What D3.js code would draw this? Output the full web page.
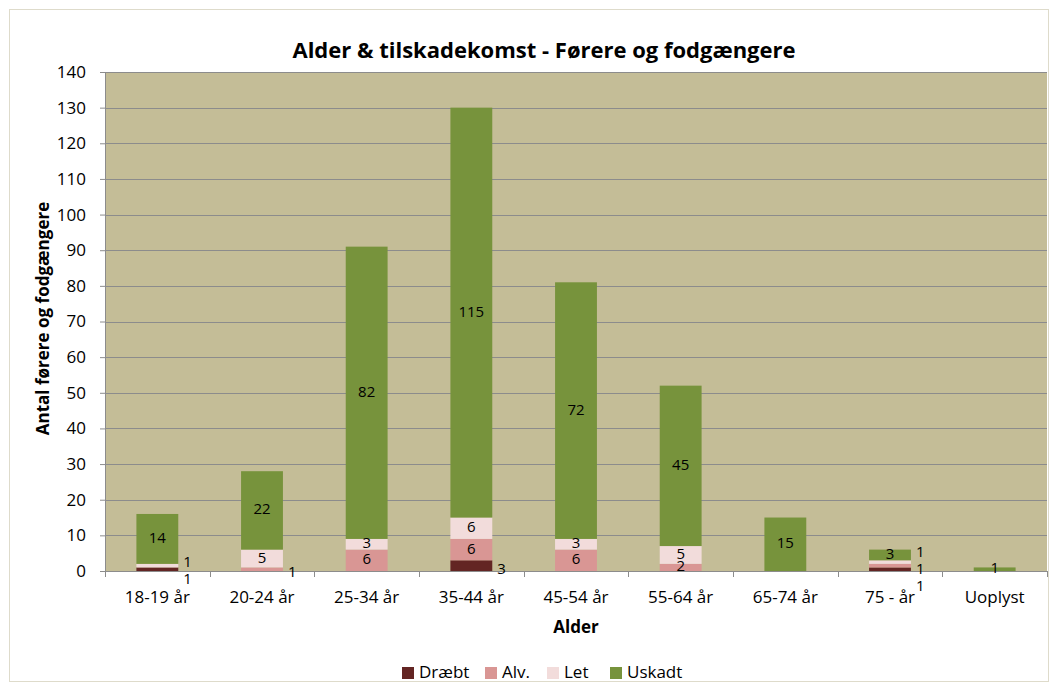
<!DOCTYPE html>
<html>
<head>
<meta charset="utf-8">
<script src="https://cdn.jsdelivr.net/npm/d3@7"></script>
<style>
  body { margin: 0; background: #fff; }
  text { font-family: "Open Sans", "Noto Sans", sans-serif; }
</style>
</head>
<body>
<div id="chart"></div>
<script>
// data
var categories = ["18-19 år", "20-24 år", "25-34 år", "35-44 år", "45-54 år", "55-64 år", "65-74 år", "75 -  år", "Uoplyst"];
var seriesNames = ["Dræbt", "Alv.", "Let", "Uskadt"];
var draebt = [1, 0, 0, 3, 0, 0, 0, 1, 0];
var alv    = [0, 1, 6, 6, 6, 2, 0, 1, 0];
var let_   = [1, 5, 3, 6, 3, 5, 0, 1, 0];
var uskadt = [14, 22, 82, 115, 72, 45, 15, 3, 1];
var yTicks = d3.range(0, 141, 10);

var colors = ["#632523", "#D99694", "#F2DCDB", "#77933C"];

var W = 1058, H = 691;
var margin = { top: 72, right: 11, bottom: 120, left: 105 };
var width = W - margin.left - margin.right;
var height = H - margin.top - margin.bottom;

var svg = d3.select("#chart").append("svg")
    .attr("width", W)
    .attr("height", H);

// chart area border
svg.append("rect")
    .attr("x", 9.5).attr("y", 9.5)
    .attr("width", W - 19).attr("height", H - 19)
    .attr("fill", "#fff")
    .attr("stroke", "#DEDBCB");

var g = svg.append("g")
    .attr("transform", "translate(" + margin.left + "," + margin.top + ")");

// table for stacking
var table = categories.map(function(c, i) {
    return { cat: c, "Dræbt": draebt[i], "Alv.": alv[i], "Let": let_[i], "Uskadt": uskadt[i] };
});
var stacked = d3.stack().keys(seriesNames)(table);

var x = d3.scaleBand().domain(categories).range([0, width]).paddingInner(0.6).paddingOuter(0.3);
var xOuter = d3.scaleBand().domain(categories).range([0, width]);
var y = d3.scaleLinear().domain([0, 140]).range([height, 0]);

// plot background
g.append("rect")
    .attr("width", width).attr("height", height)
    .attr("fill", "#C4BD97");

// gridlines
g.selectAll(".grid")
    .data(yTicks.slice(1))
    .enter().append("line")
    .attr("x1", 0).attr("x2", width)
    .attr("y1", function(d) { return Math.round(y(d)) + 0.5; })
    .attr("y2", function(d) { return Math.round(y(d)) + 0.5; })
    .attr("stroke", "#8C8C8C")
    .attr("stroke-width", 1);

// y axis
var yAxis = g.append("g")
    .call(d3.axisLeft(y).tickValues(yTicks).tickSize(5).tickPadding(14));
yAxis.select(".domain").attr("stroke", "#8C8C8C");
yAxis.selectAll(".tick line").attr("stroke", "#8C8C8C");
yAxis.selectAll("text").style("font-size", "17px").style("font-family", "'Open Sans', sans-serif").attr("fill", "#000");

// bars
var layers = g.selectAll(".layer")
    .data(stacked)
    .enter().append("g")
    .attr("fill", function(d, i) { return colors[i]; });

layers.selectAll("rect")
    .data(function(d) { return d; })
    .enter().append("rect")
    .attr("x", function(d) { return x(d.data.cat); })
    .attr("width", x.bandwidth())
    .attr("y", function(d) { return y(d[1]); })
    .attr("height", function(d) { return y(d[0]) - y(d[1]); });

// x axis
var xAxisG = g.append("g").attr("transform", "translate(0," + height + ")");
xAxisG.append("line")
    .attr("x1", 0).attr("x2", width)
    .attr("y1", 0.5).attr("y2", 0.5)
    .attr("stroke", "#8C8C8C");
xAxisG.selectAll(".xtick")
    .data(d3.range(categories.length + 1))
    .enter().append("line")
    .attr("x1", function(i) { return Math.round(i * xOuter.step()) + 0.5; })
    .attr("x2", function(i) { return Math.round(i * xOuter.step()) + 0.5; })
    .attr("y1", 0).attr("y2", 6)
    .attr("stroke", "#8C8C8C");
xAxisG.selectAll(".xlab")
    .data(categories)
    .enter().append("text")
    .attr("x", function(d) { return xOuter(d) + xOuter.bandwidth() / 2; })
    .attr("y", 27)
    .attr("text-anchor", "middle")
    .attr("dominant-baseline", "middle")
    .style("font-size", "17px")
    .text(function(d) { return d; });

// data labels: small / dark segments get their label beside the bar
var inside = [], outside = {};
stacked.forEach(function(layer, si) {
    layer.forEach(function(d) {
        var v = d[1] - d[0];
        if (v <= 0) return;
        var cy = (y(d[0]) + y(d[1])) / 2;
        var lab = { cat: d.data.cat, v: v, cy: cy };
        var isOut = seriesNames[si] === "Dræbt" || (v === 1 && seriesNames[si] !== "Uskadt");
        if (isOut) {
            lab.cy = cy + 4;
            (outside[d.data.cat] = outside[d.data.cat] || []).push(lab);
        } else {
            inside.push(lab);
        }
    });
});

g.selectAll(".inlab")
    .data(inside)
    .enter().append("text")
    .attr("x", function(d) { return x(d.cat) + x.bandwidth() / 2; })
    .attr("y", function(d) { return d.cy; })
    .attr("text-anchor", "middle")
    .attr("dominant-baseline", "middle")
    .style("font-size", "15px")
    .text(function(d) { return d.v; });

// spread outside labels so they don't overlap
var outList = [];
Object.keys(outside).forEach(function(cat) {
    var arr = outside[cat].sort(function(a, b) { return b.cy - a.cy; });
    var gap = 17;
    var mid = d3.mean(arr, function(d) { return d.cy; });
    arr.forEach(function(d, i) {
        d.ly = mid + ((arr.length - 1) / 2 - i) * gap;
        outList.push(d);
    });
});

g.selectAll(".outlab")
    .data(outList)
    .enter().append("text")
    .attr("x", function(d) { return x(d.cat) + x.bandwidth() + 5; })
    .attr("y", function(d) { return d.ly; })
    .attr("dominant-baseline", "middle")
    .style("font-size", "15px")
    .text(function(d) { return d.v; });

// title
svg.append("text")
    .attr("x", 544)
    .attr("y", 52)
    .attr("text-anchor", "middle")
    .attr("dominant-baseline", "middle")
    .style("font-size", "22px")
    .style("font-weight", "bold")
    .text("Alder & tilskadekomst - Førere og fodgængere");

// axis titles
svg.append("text")
    .attr("x", margin.left + width / 2)
    .attr("y", 628)
    .attr("text-anchor", "middle")
    .attr("dominant-baseline", "middle")
    .style("font-size", "17px")
    .style("font-weight", "bold")
    .text("Alder");

svg.append("text")
    .attr("transform", "translate(44," + (margin.top + height / 2 - 3) + ") rotate(-90)")
    .attr("text-anchor", "middle")
    .attr("dominant-baseline", "middle")
    .style("font-size", "17px")
    .style("font-weight", "bold")
    .text("Antal førere og fodgængere");

// legend
var legendX = [402, 485, 547, 610];
var legend = svg.selectAll(".legend")
    .data(seriesNames)
    .enter().append("g")
    .attr("transform", function(d, i) { return "translate(" + legendX[i] + ",667)"; });
legend.append("rect")
    .attr("width", 12).attr("height", 12)
    .attr("fill", function(d, i) { return colors[i]; });
legend.append("text")
    .attr("x", 17).attr("y", 6)
    .attr("dominant-baseline", "middle")
    .style("font-size", "17px")
    .text(function(d) { return d; });
</script>
</body>
</html>
